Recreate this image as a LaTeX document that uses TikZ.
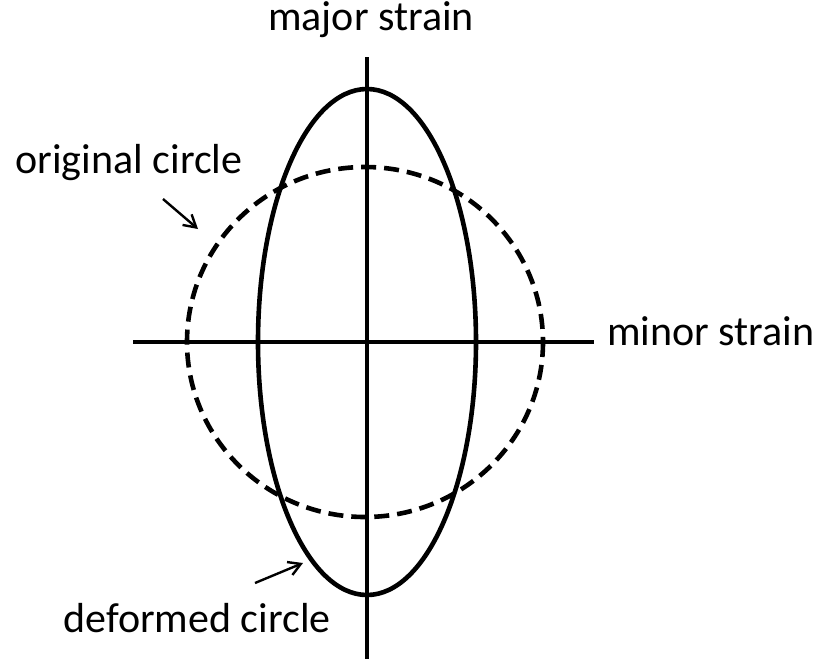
\documentclass[tikz,border=0pt]{standalone}
\usepackage{fontspec}
\setmainfont{Carlito}
\usepackage{tikz}
\usetikzlibrary{
    positioning,
    arrows.meta
}

\begin{document}
\begin{tikzpicture}[
    x=1pt, y=-1pt,
    axis/.style={line width=4.8pt},
    curve/.style={line width=4.6pt},
    label/.style={font=\fontsize{42}{48}\selectfont, inner sep=0pt},
    pointer/.style={-{Straight Barb[length=12pt, width=14pt]}, line width=2.4pt}
]

\useasboundingbox (0,0) rectangle (817,659);

% axes
\coordinate (ytop) at (367,57);
\coordinate (ybot) at (367,659);
\coordinate (xleft) at (133,342);
\coordinate (xright) at (594,342);
\draw[axis] (ytop) -- (ybot);
\draw[axis] (xleft) -- (xright);

% circles
\draw[curve, dash pattern=on 15pt off 8pt] (365,342) ellipse [x radius=178, y radius=175];
\draw[curve] (367,342) ellipse [x radius=109, y radius=253];

% labels
\node[label, anchor=base] (major) at (371,30) {major strain};
\node[label, anchor=base west] (minor) at (607,345) {minor strain};
\node[label, anchor=base] (original) at (129,173) {original circle};
\node[label, anchor=base] (deformed) at (197,632) {deformed circle};

% pointers
\coordinate (origtip) at (198,229);
\coordinate (deftip) at (303,563);
\draw[pointer] (163,199) -- (origtip);
\draw[pointer] (255,583) -- (deftip);

\end{tikzpicture}
\end{document}
